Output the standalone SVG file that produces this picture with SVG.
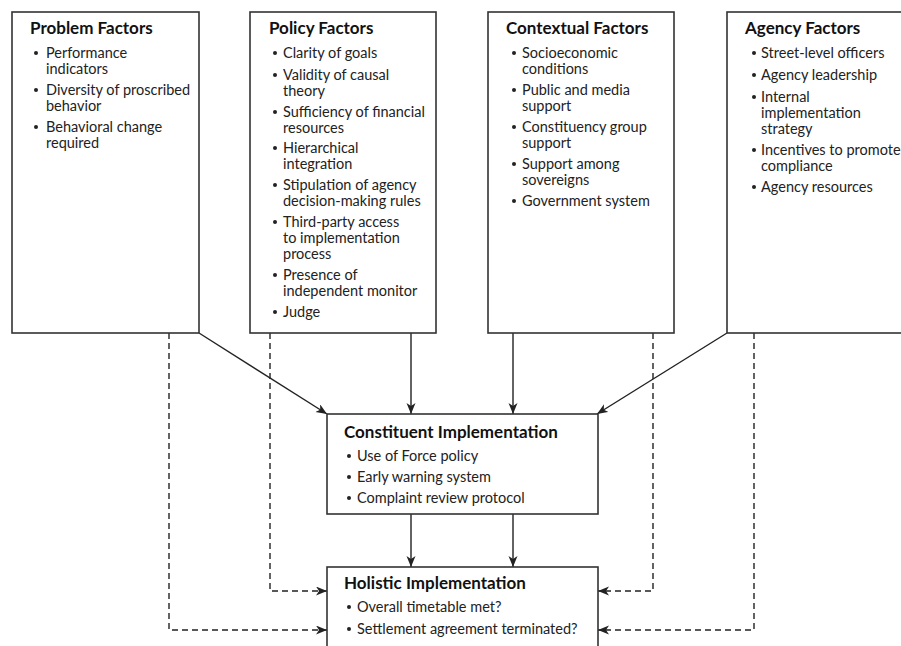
<svg xmlns="http://www.w3.org/2000/svg" width="901" height="646" viewBox="0 0 901 646">
<defs>
<style>
.box{fill:#fff;stroke:#333;stroke-width:1.6}
.t{font-family:Lato,"Liberation Sans",sans-serif;font-weight:bold;font-size:17px;fill:#111}
.b{font-family:Lato,"Liberation Sans",sans-serif;font-size:14.5px;fill:#222}
.dot{fill:#222}
.c{fill:none;stroke:#222;stroke-width:1.4}
.d{fill:none;stroke:#222;stroke-width:1.4;stroke-dasharray:6 4}
</style>
<marker id="ah" markerUnits="userSpaceOnUse" markerWidth="12" markerHeight="10" refX="11" refY="4.5" orient="auto">
<path d="M0,0 L11,4.5 L0,9 L3,4.5 Z" fill="#222"/>
</marker>
</defs>
<rect width="901" height="646" fill="#fff"/>

<g id="connectors">
<path class="c" d="M199,333 L327,414" marker-end="url(#ah)"/>
<path class="c" d="M411,333 L411,414" marker-end="url(#ah)"/>
<path class="c" d="M513,333 L513,414" marker-end="url(#ah)"/>
<path class="c" d="M727,333 L597,414" marker-end="url(#ah)"/>
<path class="c" d="M411,514 L411,567" marker-end="url(#ah)"/>
<path class="c" d="M513,514 L513,567" marker-end="url(#ah)"/>
<path class="d" d="M169,333 L169,630 L327,630" marker-end="url(#ah)"/>
<path class="d" d="M270,333 L270,591 L327,591" marker-end="url(#ah)"/>
<path class="d" d="M653,333 L653,591 L598,591" marker-end="url(#ah)"/>
<path class="d" d="M754,333 L754,630 L598,630" marker-end="url(#ah)"/>
</g>

<g id="problem">
<rect class="box" x="12" y="12" width="187" height="321"/>
<text class="t" x="30" y="34">Problem Factors</text>
<circle class="dot" cx="36" cy="53" r="2"/>
<text class="b" x="46" y="58">Performance</text>
<text class="b" x="46" y="74">indicators</text>
<circle class="dot" cx="36" cy="90" r="2"/>
<text class="b" x="46" y="95">Diversity of proscribed</text>
<text class="b" x="46" y="111">behavior</text>
<circle class="dot" cx="36" cy="127" r="2"/>
<text class="b" x="46" y="132">Behavioral change</text>
<text class="b" x="46" y="148">required</text>
</g>

<g id="policy">
<rect class="box" x="250" y="12" width="186" height="321"/>
<text class="t" x="269" y="34">Policy Factors</text>
<circle class="dot" cx="275" cy="53" r="2"/>
<text class="b" x="283" y="58">Clarity of goals</text>
<circle class="dot" cx="275" cy="75" r="2"/>
<text class="b" x="283" y="80">Validity of causal</text>
<text class="b" x="283" y="96">theory</text>
<circle class="dot" cx="275" cy="112" r="2"/>
<text class="b" x="283" y="117">Sufficiency of financial</text>
<text class="b" x="283" y="133">resources</text>
<circle class="dot" cx="275" cy="148" r="2"/>
<text class="b" x="283" y="153">Hierarchical</text>
<text class="b" x="283" y="169">integration</text>
<circle class="dot" cx="275" cy="185" r="2"/>
<text class="b" x="283" y="190">Stipulation of agency</text>
<text class="b" x="283" y="206">decision-making rules</text>
<circle class="dot" cx="275" cy="222" r="2"/>
<text class="b" x="283" y="227">Third-party access</text>
<text class="b" x="283" y="243">to implementation</text>
<text class="b" x="283" y="259">process</text>
<circle class="dot" cx="275" cy="275" r="2"/>
<text class="b" x="283" y="280">Presence of</text>
<text class="b" x="283" y="296">independent monitor</text>
<circle class="dot" cx="275" cy="312" r="2"/>
<text class="b" x="283" y="317">Judge</text>
</g>

<g id="contextual">
<rect class="box" x="488" y="12" width="186" height="321"/>
<text class="t" x="506" y="34">Contextual Factors</text>
<circle class="dot" cx="514" cy="53" r="2"/>
<text class="b" x="522" y="58">Socioeconomic</text>
<text class="b" x="522" y="74">conditions</text>
<circle class="dot" cx="514" cy="90" r="2"/>
<text class="b" x="522" y="95">Public and media</text>
<text class="b" x="522" y="111">support</text>
<circle class="dot" cx="514" cy="127" r="2"/>
<text class="b" x="522" y="132">Constituency group</text>
<text class="b" x="522" y="148">support</text>
<circle class="dot" cx="514" cy="164" r="2"/>
<text class="b" x="522" y="169">Support among</text>
<text class="b" x="522" y="185">sovereigns</text>
<circle class="dot" cx="514" cy="201" r="2"/>
<text class="b" x="522" y="206">Government system</text>
</g>

<g id="agency">
<rect class="box" x="727" y="12" width="190" height="321"/>
<text class="t" x="745" y="34">Agency Factors</text>
<circle class="dot" cx="754" cy="53" r="2"/>
<text class="b" x="761" y="58">Street-level officers</text>
<circle class="dot" cx="754" cy="75" r="2"/>
<text class="b" x="761" y="80">Agency leadership</text>
<circle class="dot" cx="754" cy="97" r="2"/>
<text class="b" x="761" y="102">Internal</text>
<text class="b" x="761" y="118">implementation</text>
<text class="b" x="761" y="134">strategy</text>
<circle class="dot" cx="754" cy="150" r="2"/>
<text class="b" x="761" y="155">Incentives to promote</text>
<text class="b" x="761" y="171">compliance</text>
<circle class="dot" cx="754" cy="187" r="2"/>
<text class="b" x="761" y="192">Agency resources</text>
</g>

<g id="constituent">
<rect class="box" x="327" y="414" width="271" height="100"/>
<text class="t" x="344" y="438">Constituent Implementation</text>
<circle class="dot" cx="349" cy="456" r="2"/>
<text class="b" x="357" y="461">Use of Force policy</text>
<circle class="dot" cx="349" cy="477" r="2"/>
<text class="b" x="357" y="482">Early warning system</text>
<circle class="dot" cx="349" cy="498" r="2"/>
<text class="b" x="357" y="503">Complaint review protocol</text>
</g>

<g id="holistic">
<rect class="box" x="327" y="567" width="271" height="100"/>
<text class="t" x="344" y="589">Holistic Implementation</text>
<circle class="dot" cx="349" cy="607" r="2"/>
<text class="b" x="357" y="612">Overall timetable met?</text>
<circle class="dot" cx="349" cy="629" r="2"/>
<text class="b" x="357" y="634">Settlement agreement terminated?</text>
</g>
</svg>
